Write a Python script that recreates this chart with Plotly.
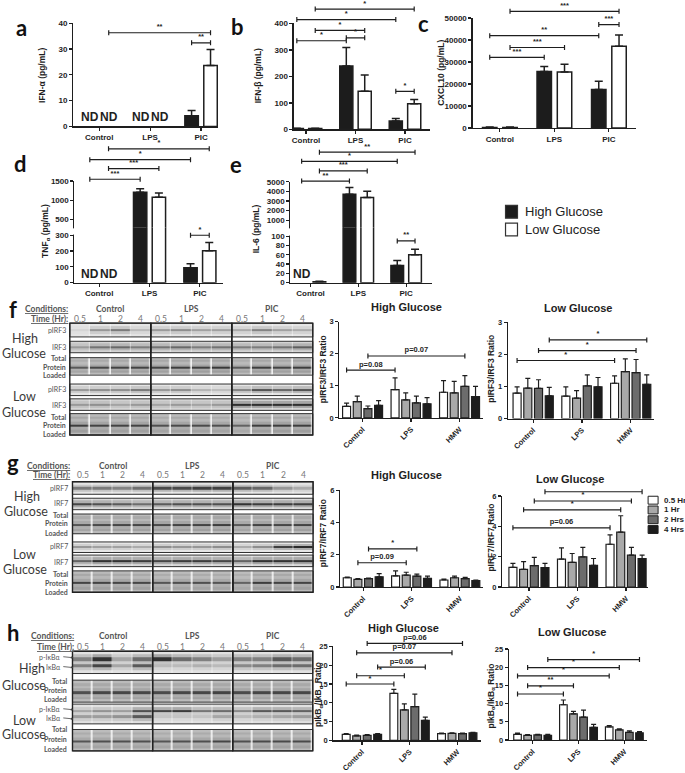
import plotly.graph_objects as go

W, H = 685, 773
SANS = "Liberation Sans, Arial, sans-serif"
CAL = "Lato, Open Sans, sans-serif"
INK = "#1e1e1e"
GREY = "#555555"

# ---- a-e: cytokines (pg/mL), mean and upper SEM, groups = Control, LPS, PIC; None = ND ----
CYTO_GROUPS = ["Control", "LPS", "PIC"]
GLUCOSE = ["High Glucose", "Low Glucose"]
GLUCOSE_FILL = ["#1c1c1c", "#ffffff"]

IFNA_HIGH = [None, None, 4.1]
IFNA_HIGH_ERR = [0, 0, 2.1]
IFNA_LOW = [None, None, 23.6]
IFNA_LOW_ERR = [0, 0, 6.2]
IFNA_SIG = [((0, 1), (2, 1), 36.3, "**"), ((2, 0), (2, 1), 32.4, "**")]

IFNB_HIGH = [3, 240, 32]
IFNB_HIGH_ERR = [1, 70, 9]
IFNB_LOW = [3, 144, 97]
IFNB_LOW_ERR = [1, 62, 16]
IFNB_SIG = [((0, 1), (2, 1), 455, "*"), ((0, 0), (2, 0), 415, "*"),
            ((0, 1), (1, 1), 374, "*"), ((1, 0), (1, 1), 346, "*"),
            ((0, 0), (1, 0), 335, "*"), ((2, 0), (2, 1), 144, "*")]

CXCL10_HIGH = [300, 25700, 17500]
CXCL10_HIGH_ERR = [150, 2200, 3700]
CXCL10_LOW = [300, 25400, 37200]
CXCL10_LOW_ERR = [150, 3600, 5100]
CXCL10_SIG = [((0, 1), (2, 1), 53000, "***"), ((2, 0), (2, 1), 47000, "***"),
              ((0, 0), (2, 0), 41950, "**"), ((0, 1), (1, 1), 36570, "***"),
              ((0, 0), (1, 0), 32100, "***")]

TNF_HIGH = [None, 1210, 94]
TNF_HIGH_ERR = [0, 90, 25]
TNF_LOW = [None, 1075, 202]
TNF_LOW_ERR = [0, 115, 52]
TNF_SIG_UPPER = [((0, 1), (2, 1), 2336, "*"), ((0, 0), (2, 0), 2054, "*"),
                 ((0, 1), (1, 1), 1823, "***"), ((0, 0), (1, 0), 1546, "***")]
TNF_SIG_LOWER = [((2, 0), (2, 1), 300, "*")]

IL6_HIGH = [None, 3700, 37]
IL6_HIGH_ERR = [0, 700, 11]
IL6_LOW = [2, 3350, 60]
IL6_LOW_ERR = [0.8, 650, 12]
IL6_SIG_UPPER = [((0, 1), (2, 1), 8077, "**"), ((0, 0), (2, 0), 7123, "*"),
                 ((0, 1), (1, 1), 6128, "***"), ((0, 0), (1, 0), 5072, "**")]
IL6_SIG_LOWER = [((2, 0), (2, 1), 90, "**")]

# ---- f-h: densitometry ratios, one list per time point, groups = Control, LPS, HMW ----
TIME_GROUPS = ["Control", "LPS", "HMW"]
TIMES = ["0.5 Hr", "1 Hr", "2 Hrs", "4 Hrs"]
TIME_FILL = ["#ffffff", "#a9a9a9", "#6c6c6c", "#1c1c1c"]

IRF3_HIGH = [[0.36, 0.88, 0.80], [0.51, 0.56, 0.78], [0.29, 0.47, 0.98], [0.39, 0.44, 0.66]]
IRF3_HIGH_ERR = [[0.10, 0.37, 0.36], [0.17, 0.22, 0.36], [0.08, 0.21, 0.34], [0.15, 0.19, 0.32]]
IRF3_HIGH_SIG = [((0, 0), (1, 0), 1.49, "p=0.08"), ((0, 2), (2, 2), 1.93, "p=0.07")]
IRF3_LOW = [[0.79, 0.70, 1.10], [0.95, 0.64, 1.46], [0.94, 1.02, 1.43], [0.71, 0.99, 1.07]]
IRF3_LOW_ERR = [[0.20, 0.29, 0.23], [0.30, 0.23, 0.40], [0.27, 0.34, 0.41], [0.26, 0.29, 0.29]]
IRF3_LOW_SIG = [((0, 0), (2, 0), 1.81, "*"), ((0, 2), (2, 2), 2.12, "*"), ((0, 3), (2, 3), 2.45, "*")]

IRF7_HIGH = [[0.58, 0.70, 0.44], [0.48, 0.74, 0.58], [0.52, 0.68, 0.52], [0.64, 0.54, 0.40]]
IRF7_HIGH_ERR = [[0.04, 0.30, 0.06], [0.05, 0.18, 0.10], [0.04, 0.12, 0.08], [0.20, 0.14, 0.04]]
IRF7_HIGH_SIG = [((0, 1), (1, 1), 1.51, "p=0.09"), ((0, 2), (1, 2), 2.37, "*")]
IRF7_LOW = [[1.30, 1.84, 2.82], [1.17, 1.62, 3.62], [1.41, 1.99, 2.10], [1.28, 1.43, 1.88]]
IRF7_LOW_ERR = [[0.26, 0.74, 0.62], [0.50, 0.59, 1.08], [0.54, 0.63, 0.52], [0.28, 0.45, 0.22]]
IRF7_LOW_SIG = [((0, 0), (2, 0), 3.9, "p=0.06"), ((0, 1), (2, 1), 5.09, "*"),
                ((0, 2), (2, 2), 5.67, "*"), ((0, 3), (2, 3), 6.28, "*")]

IKB_HIGH = [[1.6, 12.5, 1.8], [1.2, 8.1, 1.85], [1.3, 9.0, 1.8], [1.6, 5.3, 2.0]]
IKB_HIGH_ERR = [[0.2, 1.1, 0.15], [0.2, 1.6, 0.15], [0.2, 3.3, 0.15], [0.2, 0.9, 0.15]]
IKB_HIGH_SIG = [((0, 0), (1, 0), 15.0, "*"), ((0, 1), (1, 1), 17.2, "*"),
                ((0, 3), (1, 3), 19.5, "p=0.06"), ((0, 1), (2, 1), 23.3, "p=0.07"),
                ((0, 2), (2, 2), 25.8, "p=0.06")]
IKB_LOW = [[1.55, 9.7, 3.6], [1.3, 7.2, 2.8], [1.4, 6.3, 2.1], [1.3, 3.5, 2.0]]
IKB_LOW_ERR = [[0.35, 1.3, 0.4], [0.2, 0.7, 0.3], [0.2, 1.9, 0.4], [0.25, 0.8, 0.3]]
IKB_LOW_SIG = [((0, 0), (1, 0), 12.65, "*"), ((0, 1), (1, 1), 14.9, "**"),
               ((0, 0), (2, 0), 17.6, "*"), ((0, 1), (2, 1), 19.9, "*"),
               ((0, 3), (2, 3), 22.1, "*")]

# ---- western blot band darkness per lane (0..1), lanes = Control/LPS/PIC x 0.5,1,2,4 h ----
LANE_TIMES = ["0.5", "1", "2", "4"] * 3
F_HI_PIRF3 = [0.08, 0.40, 0.55, 0.22, 0.38, 0.45, 0.35, 0.35, 0.30, 0.50, 0.35, 0.30]
F_HI_IRF3 = [0.30, 0.50, 0.55, 0.45, 0.50, 0.55, 0.45, 0.50, 0.45, 0.45, 0.50, 0.60]
F_HI_TOTAL = [0.60, 0.70, 0.72, 0.72, 0.72, 0.75, 0.75, 0.78, 0.60, 0.75, 0.72, 0.75]
F_LO_PIRF3 = [0.40, 0.45, 0.45, 0.55, 0.40, 0.45, 0.25, 0.20, 0.50, 0.75, 0.65, 0.75]
F_LO_IRF3 = [0.30, 0.35, 0.25, 0.30, 0.25, 0.30, 0.25, 0.30, 0.85, 0.85, 0.85, 0.85]
F_LO_TOTAL = [0.75, 0.72, 0.72, 0.72, 0.65, 0.68, 0.68, 0.65, 0.55, 0.75, 0.75, 0.75]

G_HI_PIRF7 = [0.55, 0.55, 0.50, 0.60, 0.80, 0.80, 0.85, 0.85, 0.70, 0.65, 0.40, 0.30]
G_HI_IRF7 = [0.75, 0.70, 0.65, 0.55, 0.65, 0.70, 0.70, 0.70, 0.85, 0.80, 0.80, 0.80]
G_HI_TOTAL = [0.62, 0.68, 0.70, 0.70, 0.68, 0.72, 0.72, 0.75, 0.60, 0.72, 0.70, 0.72]
G_LO_PIRF7 = [0.40, 0.35, 0.35, 0.30, 0.45, 0.40, 0.40, 0.45, 0.30, 0.45, 0.85, 0.95]
G_LO_IRF7 = [0.60, 0.85, 0.85, 0.80, 0.75, 0.80, 0.80, 0.75, 0.60, 0.85, 0.85, 0.85]
G_LO_TOTAL = [0.72, 0.72, 0.70, 0.70, 0.62, 0.65, 0.65, 0.62, 0.55, 0.75, 0.72, 0.72]

H_HI_PIKB = [0.50, 0.90, 0.30, 0.60, 0.90, 0.60, 0.50, 0.35, 0.50, 0.50, 0.70, 0.60]
H_HI_IKB = [0.50, 0.80, 0.30, 0.70, 0.20, 0.20, 0.25, 0.20, 0.45, 0.50, 0.60, 0.60]
H_HI_TOTAL = [0.65, 0.70, 0.70, 0.70, 0.68, 0.70, 0.70, 0.72, 0.68, 0.70, 0.70, 0.70]
H_LO_PIKB = [0.30, 0.40, 0.35, 0.75, 0.80, 0.85, 0.55, 0.60, 0.45, 0.70, 0.70, 0.65]
H_LO_IKB = [0.35, 0.35, 0.40, 0.70, 0.15, 0.15, 0.15, 0.30, 0.20, 0.25, 0.30, 0.35]
H_LO_TOTAL = [0.62, 0.65, 0.65, 0.65, 0.62, 0.65, 0.65, 0.70, 0.65, 0.68, 0.68, 0.68]

# ---- styling ----
PAIR_CENTERS = [-0.186, 0.186]
PAIR_WIDTH = 0.265
QUAD_CENTERS = [-0.33, -0.11, 0.11, 0.33]
QUAD_WIDTH = 0.165
SINGLE_PROFILE = [0.0, 0.25, 0.9, 0.28, 0.0]
TOTAL_PROFILE = [0.08, 0.2, 0.1, 0.22, 0.85, 0.18, 0.25, 0.08]
BLOT_SCALE = [[0, "#f2f2f2"], [1, "#1a1a1a"]]
TICKFONT = dict(family=SANS, size=8, color=INK, weight="bold")
AXIS = dict(showline=True, linecolor=INK, linewidth=1.2, ticks="outside", ticklen=3,
            tickwidth=1.2, tickcolor=INK, showgrid=False, zeroline=False, fixedrange=True,
            tickfont=TICKFONT)

fig = go.Figure()
lay = {}
shapes = []
annotations = []
_count = {"x": 0, "y": 0}


def px(x):
    return x / W


def py(y):
    return 1 - y / H


def new_axis(letter):
    _count[letter] += 1
    k = _count[letter]
    suffix = str(k) if k > 1 else ""
    return f"{letter}axis{suffix}", f"{letter}{suffix}"


def ann(x, y, text, size=9, color=INK, family=SANS, bold=False, xanchor="center", angle=0):
    annotations.append(dict(x=px(x), y=py(y), xref="paper", yref="paper", text=text,
                            showarrow=False, xanchor=xanchor, yanchor="middle", textangle=angle,
                            font=dict(family=family, size=size, color=color,
                                      weight="bold" if bold else "normal")))


def axis_pair(x0, x1, ytop, ybot, xr, yr, yticks, xlabels, tickangle=0, tsize=8):
    xname, xid = new_axis("x")
    yname, yid = new_axis("y")
    tf = dict(TICKFONT, size=tsize)
    lay[xname] = dict(AXIS, domain=[px(x0), px(x1)], range=xr, anchor=yid, type="linear",
                      tickvals=[0, 1, 2], ticktext=xlabels, tickangle=tickangle, tickfont=tf)
    lay[yname] = dict(AXIS, domain=[py(ybot), py(ytop)], range=yr, anchor=xid,
                      tickvals=yticks, tickformat="d", tickfont=tf)
    return xid, yid


def extra_y(xid, ytop, ybot, yr, yticks=None):
    yname, yid = new_axis("y")
    if yticks is None:
        lay[yname] = dict(visible=False, domain=[py(ybot), py(ytop)], range=yr, anchor=xid,
                          fixedrange=True)
    else:
        lay[yname] = dict(AXIS, domain=[py(ybot), py(ytop)], range=yr, anchor=xid,
                          tickvals=yticks, tickformat="d")
    return yid


def bracket_axis(xid, ytop, ybot, yr, top_px):
    # same scale as the value axis, stretched upward so brackets above it still draw
    ppu = (ybot - ytop) / (yr[1] - yr[0])
    return extra_y(xid, top_px, ybot, [yr[0], yr[0] + (ybot - top_px) / ppu])


def bars(xid, yid, series, errs, fills, centers, width, lw, cap):
    for vals, err, fill, c in zip(series, errs, fills, centers):
        fig.add_trace(go.Bar(
            x=[0, 1, 2], y=vals, xaxis=xid, yaxis=yid, width=width, offset=c - width / 2,
            marker=dict(color=fill, line=dict(color=INK, width=lw)),
            error_y=dict(type="data", array=err, arrayminus=[0, 0, 0], symmetric=False,
                         color=INK, thickness=lw, width=cap),
            showlegend=False, hoverinfo="skip"))


def nd_labels(xid, yid, series, centers):
    for vals, c in zip(series, centers):
        for g, v in enumerate(vals):
            if v is None:
                annotations.append(dict(x=g + c, y=0, xref=xid, yref=yid, text="ND",
                                        showarrow=False, yanchor="bottom", yshift=0,
                                        font=dict(family=SANS, size=12, color=INK, weight="bold")))


def brackets(xid, yid, sig, centers, size=7.5):
    mids, halves, ys, labels = [], [], [], []
    for (ga, sa), (gb, sb), level, lab in sig:
        xa, xb = ga + centers[sa], gb + centers[sb]
        mids.append((xa + xb) / 2)
        halves.append((xb - xa) / 2)
        ys.append(level)
        labels.append(lab)
    fig.add_trace(go.Scatter(
        x=mids, y=ys, xaxis=xid, yaxis=yid, mode="markers+text", text=labels,
        textposition="top center", cliponaxis=False,
        textfont=dict(family=SANS, size=size, color=INK, weight="bold"),
        marker=dict(size=1, color="rgba(0,0,0,0)"),
        error_x=dict(type="data", array=halves, symmetric=True, color=INK, thickness=1.2, width=2.5),
        showlegend=False, hoverinfo="skip"))


def axis_break(x_axis_px, y0, y1):
    shapes.append(dict(type="rect", xref="paper", yref="paper", x0=px(x_axis_px - 3),
                       x1=px(x_axis_px + 0.8), y0=py(y1), y1=py(y0),
                       fillcolor="white", line=dict(width=0), layer="above"))


def blot(x0, x1, ytop, ybot, rows):
    lw = (x1 - x0) / 12
    xname, xid = new_axis("x")
    yname, yid = new_axis("y")
    lay[xname] = dict(visible=False, domain=[px(x0 - 0.1 * lw), px(x1 + 0.1 * lw)],
                      range=[-0.1, 12.1], anchor=yid, fixedrange=True)
    lay[yname] = dict(visible=False, domain=[py(ybot + 2), py(ytop - 2)],
                      range=[ybot + 2, ytop - 2], anchor=xid, fixedrange=True)
    lanes = [i + 0.5 for i in range(12)]
    for top, bot, kind, bg, bands in rows:
        if kind == "double":
            up, low = bands
            prof_rows = [[0] * 12, [0.3 * u for u in up], [0.9 * u for u in up],
                         [0.12 * (u + l) for u, l in zip(up, low)], [0.9 * l for l in low],
                         [0.25 * l for l in low], [0] * 12]
        else:
            prof = SINGLE_PROFILE if kind == "single" else TOTAL_PROFILE
            prof_rows = [[p * v for v in bands] for p in prof]
        z = [[min(1.0, bg + v) for v in r] for r in prof_rows]
        n = len(z)
        ys = [top + (i + 0.5) * (bot - top) / n for i in range(n)]
        fig.add_trace(go.Heatmap(x=lanes, y=ys, z=z, xaxis=xid, yaxis=yid, zmin=0, zmax=1,
                                 colorscale=BLOT_SCALE, showscale=False,
                                 xgap=1.5 if kind == "total" else 0.5, hoverinfo="skip"))
        for g in range(3):
            shapes.append(dict(type="rect", xref=xid, yref=yid, x0=4 * g, x1=4 * g + 4,
                               y0=top, y1=bot, line=dict(color="#333333", width=1)))
    for g in range(3):
        shapes.append(dict(type="rect", xref=xid, yref=yid, x0=4 * g, x1=4 * g + 4,
                           y0=rows[0][0], y1=rows[-1][1], line=dict(color="#222", width=1.4)))
    return lw


def blot_header(x0, lw, cond_y, time_y, right):
    ann(right, cond_y, "<u>Conditions:</u>", 8.5, GREY, CAL, True, "right")
    ann(right, time_y, "<u>Time (Hr):</u>", 8.5, GREY, CAL, True, "right")
    for g, name in enumerate(CYTO_GROUPS):
        ann(x0 + (4 * g + 2) * lw, cond_y, name, 8.5, GREY, CAL, True)
    for i, t in enumerate(LANE_TIMES):
        ann(x0 + (i + 0.5) * lw, time_y, t, 8.5, "#777777", CAL)


def row_labels(items, right):
    for text, y in items:
        ann(right, y, text, 7, GREY, CAL, text in ("Total", "Protein", "Loaded"), "right")


def side_labels(items):
    for text, x, y in items:
        ann(x, y, text, 12.5, "#3a3a3a", CAL)


# ======================= a: IFN-alpha =======================
xa, ya = axis_pair(71.5, 217, 19.3, 124, [-0.51, 2.34], [0, 40.05], [0, 10, 20, 30, 40], CYTO_GROUPS)
bars(xa, ya, [IFNA_HIGH, IFNA_LOW], [IFNA_HIGH_ERR, IFNA_LOW_ERR], GLUCOSE_FILL, PAIR_CENTERS, PAIR_WIDTH, 1.5, 4)
nd_labels(xa, ya, [IFNA_HIGH, IFNA_LOW], PAIR_CENTERS)
brackets(xa, bracket_axis(xa, 19.3, 124, [0, 40.05], 0), IFNA_SIG, PAIR_CENTERS)
ann(40, 72, "IFN-α (pg/mL)", 8.5, bold=True, angle=-90)

# ======================= b: IFN-beta =======================
xb, yb = axis_pair(292.5, 429, 19.7, 127, [-0.25, 2.5], [0, 400.5], [0, 100, 200, 300, 400], CYTO_GROUPS)
bars(xb, yb, [IFNB_HIGH, IFNB_LOW], [IFNB_HIGH_ERR, IFNB_LOW_ERR], GLUCOSE_FILL, PAIR_CENTERS, PAIR_WIDTH, 1.5, 4)
brackets(xb, bracket_axis(xb, 19.7, 127, [0, 400.5], 0), IFNB_SIG, PAIR_CENTERS)
ann(257, 73, "IFN-β (pg/mL)", 8.5, bold=True, angle=-90)

# ======================= c: CXCL10 =======================
xc, yc = axis_pair(472, 636, 14, 125.7, [-0.5, 2.5], [0, 50050], [0, 10000, 20000, 30000, 40000, 50000], CYTO_GROUPS)
bars(xc, yc, [CXCL10_HIGH, CXCL10_LOW], [CXCL10_HIGH_ERR, CXCL10_LOW_ERR], GLUCOSE_FILL, PAIR_CENTERS, PAIR_WIDTH, 1.5, 4)
brackets(xc, bracket_axis(xc, 14, 125.7, [0, 50050], 0), CXCL10_SIG, PAIR_CENTERS)
ann(440, 70, "CXCL10 (pg/mL)", 8.5, bold=True, angle=-90)

# ======================= d: TNF-alpha (broken axis) =======================
xd, yd = axis_pair(72.7, 221.7, 226.7, 282.3, [-0.49, 2.46], [0, 347.5], [0, 100, 200, 300], CYTO_GROUPS)
yd_up = extra_y(xd, 179.3, 226.7, [285, 1500.5], [500, 1000, 1500])
for yid in (yd, yd_up):
    bars(xd, yid, [TNF_HIGH, TNF_LOW], [TNF_HIGH_ERR, TNF_LOW_ERR], GLUCOSE_FILL, PAIR_CENTERS, PAIR_WIDTH, 1.5, 4)
nd_labels(xd, yd, [TNF_HIGH, TNF_LOW], PAIR_CENTERS)
brackets(xd, bracket_axis(xd, 179.3, 226.7, [285, 1500.5], 135), TNF_SIG_UPPER, PAIR_CENTERS)
brackets(xd, yd, TNF_SIG_LOWER, PAIR_CENTERS)
axis_break(72.7, 227.3, 233.6)
ann(43, 230, "TNF<sub>α</sub> (pg/mL)", 8.5, bold=True, angle=-90)

# ======================= e: IL-6 (broken axis) =======================
xe, ye = axis_pair(289.3, 431.7, 226.7, 282.3, [-0.42, 2.55], [0, 118.3], [0, 20, 40, 60, 80, 100], CYTO_GROUPS)
ye_up = extra_y(xe, 180, 226.7, [210, 5005], [1000, 2000, 3000, 4000, 5000])
for yid in (ye, ye_up):
    bars(xe, yid, [IL6_HIGH, IL6_LOW], [IL6_HIGH_ERR, IL6_LOW_ERR], GLUCOSE_FILL, PAIR_CENTERS, PAIR_WIDTH, 1.5, 4)
nd_labels(xe, ye, [IL6_HIGH, IL6_LOW], PAIR_CENTERS)
brackets(xe, bracket_axis(xe, 180, 226.7, [210, 5005], 140), IL6_SIG_UPPER, PAIR_CENTERS)
brackets(xe, ye, IL6_SIG_LOWER, PAIR_CENTERS)
axis_break(289.3, 227.3, 234.6)
ann(255, 228, "IL-6 (pg/mL)", 8.5, bold=True, angle=-90)

# glucose legend
for i, (name, fill) in enumerate(zip(GLUCOSE, GLUCOSE_FILL)):
    yc_ = 210.5 + 18 * i
    shapes.append(dict(type="rect", xref="paper", yref="paper", x0=px(505), x1=px(517),
                       y0=py(yc_ + 6.5), y1=py(yc_ - 6.5), fillcolor=fill,
                       line=dict(color="#333", width=1.2)))
    ann(523, yc_, name, 13, "#222", SANS, False, "left")

# ======================= ratio charts f-h =======================
RATIO_CHARTS = [
    # (x0, x1, ytop, ybot, xrange, yrange, yticks, series, errs, sig, bracket top, title, title pos, ytitle, ytitle x, y)
    (338.3, 482.7, 321.7, 419.3, [-0.48, 2.49], [0, 3.005], [0, 1, 2, 3], IRF3_HIGH, IRF3_HIGH_ERR, IRF3_HIGH_SIG, 300,
     "High Glucose", (406, 306.7), "pIRF3/IRF3 Ratio", 322, 370),
    (507.3, 654, 322.3, 420, [-0.52, 2.48], [0, 3.005], [0, 1, 2, 3], IRF3_LOW, IRF3_LOW_ERR, IRF3_LOW_SIG, 300,
     "Low Glucose", (577.3, 307.7), "pIRF3/IRF3 Ratio", 491, 370),
    (339, 482, 492.7, 590.7, [-0.48, 2.47], [0, 6.01], [0, 2, 4, 6], IRF7_HIGH, IRF7_HIGH_ERR, IRF7_HIGH_SIG, 470,
     "High Glucose", (406, 477.3), "pIRF7/IRF7 Ratio", 322, 536),
    (501.7, 648.3, 498.3, 590.7, [-0.55, 2.46], [0, 6.01], [0, 2, 4, 6], IRF7_LOW, IRF7_LOW_ERR, IRF7_LOW_SIG, 470,
     "Low Glucose", (570, 481.5), "pIRF7/IRF7 Ratio", 490, 541),
    (332.3, 480, 650.7, 746, [-0.6, 2.49], [0, 25.05], [0, 5, 10, 15, 20, 25], IKB_HIGH, IKB_HIGH_ERR, IKB_HIGH_SIG, 630,
     "High Glucose", (402.7, 632), "pIkB<sub>α</sub>/IkB<sub>α</sub> Ratio", 318, 700),
    (508.3, 646.7, 653.3, 745.7, [-0.52, 2.49], [0, 25.05], [0, 5, 10, 15, 20, 25], IKB_LOW, IKB_LOW_ERR, IKB_LOW_SIG, 630,
     "Low Glucose", (571.7, 636), "pIkB<sub>α</sub>/IkB<sub>α</sub> Ratio", 491, 701),
]
for (x0, x1, yt, ybt, xr, yr, yt_vals, ser, err, sig, btop, title, tpos, ytitle, ytx, yty) in RATIO_CHARTS:
    xid, yid = axis_pair(x0, x1, yt, ybt, xr, yr, yt_vals, TIME_GROUPS, tickangle=-45, tsize=7.5)
    bars(xid, yid, ser, err, TIME_FILL, QUAD_CENTERS, QUAD_WIDTH, 1.2, 2.5)
    brackets(xid, bracket_axis(xid, yt, ybt, yr, btop), sig, QUAD_CENTERS, size=7.5)
    ann(tpos[0], tpos[1], title, 11, INK, SANS, True)
    ann(ytx, yty, ytitle, 8.5, INK, SANS, True, angle=-90)

# time legend
for i, (name, fill) in enumerate(zip(TIMES, TIME_FILL)):
    yc_ = 502.7 + 9.9 * i
    shapes.append(dict(type="rect", xref="paper", yref="paper", x0=px(648), x1=px(658),
                       y0=py(yc_ + 4), y1=py(yc_ - 4), fillcolor=fill,
                       line=dict(color=INK, width=1)))
    ann(662, yc_, name, 8, INK, SANS, True, "left")

# ======================= blots =======================
lw_f = blot(68, 311.7, 323.3, 436.7, [
    (323.3, 337.3, "single", 0.06, F_HI_PIRF3), (341.7, 353.3, "single", 0.14, F_HI_IRF3),
    (358.3, 376.0, "total", 0.2, F_HI_TOTAL), (385.0, 396.7, "single", 0.06, F_LO_PIRF3),
    (400.0, 411.7, "single", 0.14, F_LO_IRF3), (415.0, 436.7, "total", 0.2, F_LO_TOTAL)])
blot_header(68, lw_f, 309, 319, 68)
row_labels([("pIRF3", 330), ("IRF3", 347.5), ("Total", 359), ("Protein", 367.7), ("Loaded", 376),
            ("pIRF3", 390.5), ("IRF3", 406), ("Total", 418.3), ("Protein", 427), ("Loaded", 435.7)], 66)
side_labels([("High", 23, 338.5), ("Glucose", 22, 354.5), ("Low", 23, 398), ("Glucose", 22, 413.5)])

lw_g = blot(70.7, 312, 484, 596, [
    (484.0, 496.7, "single", 0.06, G_HI_PIRF7), (500.7, 512.3, "single", 0.12, G_HI_IRF7),
    (516.7, 536.7, "total", 0.2, G_HI_TOTAL), (545.0, 555.7, "single", 0.06, G_LO_PIRF7),
    (558.3, 570.0, "single", 0.12, G_LO_IRF7), (574.3, 596.0, "total", 0.2, G_LO_TOTAL)])
blot_header(70.7, lw_g, 468.3, 477.3, 70)
row_labels([("pIRF7", 490), ("IRF7", 505.7), ("Total", 517.3), ("Protein", 526), ("Loaded", 535.7),
            ("pIRF7", 549.3), ("IRF7", 565.7), ("Total", 577.3), ("Protein", 586.7), ("Loaded", 595.7)], 68.5)
side_labels([("High", 25, 498.5), ("Glucose", 24, 513.8), ("Low", 23, 557.5), ("Glucose", 23, 572.5)])

lw_h = blot(70.7, 311.7, 655.7, 756.7, [
    (655.7, 678.3, "double", 0.08, (H_HI_PIKB, H_HI_IKB)), (685.0, 707.3, "total", 0.2, H_HI_TOTAL),
    (709.3, 729.3, "double", 0.08, (H_LO_PIKB, H_LO_IKB)), (735.0, 756.7, "total", 0.2, H_LO_TOTAL)])
blot_header(70.7, lw_h, 640.7, 651.7, 74)
row_labels([("Total", 685.7), ("Protein", 695), ("Loaded", 704.3),
            ("Total", 735), ("Protein", 745), ("Loaded", 754.3)], 67)
for text, y in [("p-IκBα", 662.3), ("IκBα", 672.3), ("p-IκBα", 715), ("IκBα", 724.3)]:
    annotations.append(dict(x=px(71.5), y=py(y), xref="paper", yref="paper", text=text,
                            showarrow=True, ax=-10, ay=-1, xanchor="right", arrowhead=2,
                            arrowsize=0.6, arrowwidth=0.8, arrowcolor="#444",
                            font=dict(family=CAL, size=7, color=GREY)))
side_labels([("High", 30, 673.5), ("Glucose", 22, 690.5), ("Low", 23, 725.5), ("Glucose", 22, 740.5)])

# panel letters
for letter, x, y in [("a", 20, 24), ("b", 236, 23), ("c", 423, 20), ("d", 19, 162),
                     ("e", 235, 163), ("f", 11, 309), ("g", 11, 465), ("h", 11, 637)]:
    ann(x, y, letter, 22, "#111", CAL, True)

fig.update_layout(
    width=W, height=H, autosize=False, margin=dict(l=0, r=0, t=0, b=0),
    paper_bgcolor="white", plot_bgcolor="rgba(0,0,0,0)", showlegend=False, barmode="overlay",
    shapes=shapes, annotations=annotations, **lay)

fig.write_html("out.html", config={"displayModeBar": False, "staticPlot": True},
               post_script="document.body.style.margin='0';"
                           "document.body.style.overflow='hidden';")
